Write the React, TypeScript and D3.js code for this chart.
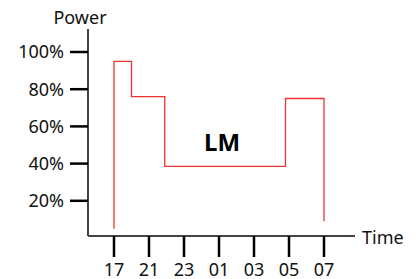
import React, { useEffect, useRef } from "react"
import * as d3 from "d3"

// tick labels
const timeLabels = ["17", "21", "23", "01", "03", "05", "07"]
const powerTicks = [20, 40, 60, 80, 100]

// step profile: x given as position along the time ticks (0 = "17", 6 = "07")
const stepX = [0, 0.5, 1.45, 4.9, 6]
const stepPower = [95, 76, 38.5, 75]
const startPower = 5
const endPower = 9

const W = 420
const H = 279
const FONT = "'Noto Sans', sans-serif"

export default function App() {
  const ref = useRef<SVGSVGElement>(null)

  useEffect(() => {
    const svg = d3.select(ref.current)
    svg.selectAll("*").remove()

    const axisX = 88
    const axisY = 236

    const x = d3.scaleLinear().domain([0, timeLabels.length - 1]).range([114, 324])
    const y = d3.scaleLinear().domain([0, 100]).range([238, 52])

    // axes lines
    svg.append("line")
      .attr("x1", axisX).attr("x2", axisX)
      .attr("y1", 29).attr("y2", axisY)
      .attr("stroke", "#444").attr("stroke-width", 2)
    svg.append("line")
      .attr("x1", axisX).attr("x2", 355)
      .attr("y1", axisY).attr("y2", axisY)
      .attr("stroke", "#444").attr("stroke-width", 2)

    // y ticks
    const yt = svg.append("g")
    yt.selectAll("line")
      .data(powerTicks)
      .enter()
      .append("line")
      .attr("x1", 70).attr("x2", axisX)
      .attr("y1", d => y(d)).attr("y2", d => y(d))
      .attr("stroke", "#000").attr("stroke-width", 2.5)
    yt.selectAll("text")
      .data(powerTicks)
      .enter()
      .append("text")
      .attr("x", 64)
      .attr("y", d => y(d))
      .attr("dy", "0.35em")
      .attr("text-anchor", "end")
      .attr("font-family", FONT)
      .attr("font-size", 18)
      .attr("fill", "#111")
      .text(d => d + "%")

    // x ticks
    const xt = svg.append("g")
    xt.selectAll("line")
      .data(timeLabels)
      .enter()
      .append("line")
      .attr("x1", (d, i) => x(i)).attr("x2", (d, i) => x(i))
      .attr("y1", axisY).attr("y2", 257)
      .attr("stroke", "#000").attr("stroke-width", 2.5)
    xt.selectAll("text")
      .data(timeLabels)
      .enter()
      .append("text")
      .attr("x", (d, i) => x(i))
      .attr("y", 276)
      .attr("text-anchor", "middle")
      .attr("font-family", FONT)
      .attr("font-size", 18)
      .attr("fill", "#111")
      .text(d => d)

    // axis titles
    svg.append("text")
      .attr("x", 80).attr("y", 24)
      .attr("text-anchor", "middle")
      .attr("font-family", FONT).attr("font-size", 18)
      .attr("fill", "#111")
      .text("Power")
    svg.append("text")
      .attr("x", 362).attr("y", 244)
      .attr("font-family", FONT).attr("font-size", 18)
      .attr("fill", "#111")
      .text("Time")

    // step line
    const pts: [number, number][] = [[stepX[0], startPower]]
    stepPower.forEach((p, i) => {
      pts.push([stepX[i], p])
      pts.push([stepX[i + 1], p])
    })
    pts.push([stepX[stepX.length - 1], endPower])
    const line = d3.line<[number, number]>().x(d => x(d[0])).y(d => y(d[1]))
    svg.append("path")
      .attr("d", line(pts))
      .attr("fill", "none")
      .attr("stroke", "#ee3333")
      .attr("stroke-width", 1.3)

    svg.append("text")
      .attr("x", 222).attr("y", 151)
      .attr("text-anchor", "middle")
      .attr("font-family", FONT).attr("font-size", 24)
      .attr("font-weight", "bold")
      .attr("fill", "#000")
      .text("LM")
  }, [])

  return (
    <svg
      ref={ref}
      width={W}
      height={H}
      style={{ position: "absolute", left: 0, top: 0, background: "#fff" }}
    />
  )
}
